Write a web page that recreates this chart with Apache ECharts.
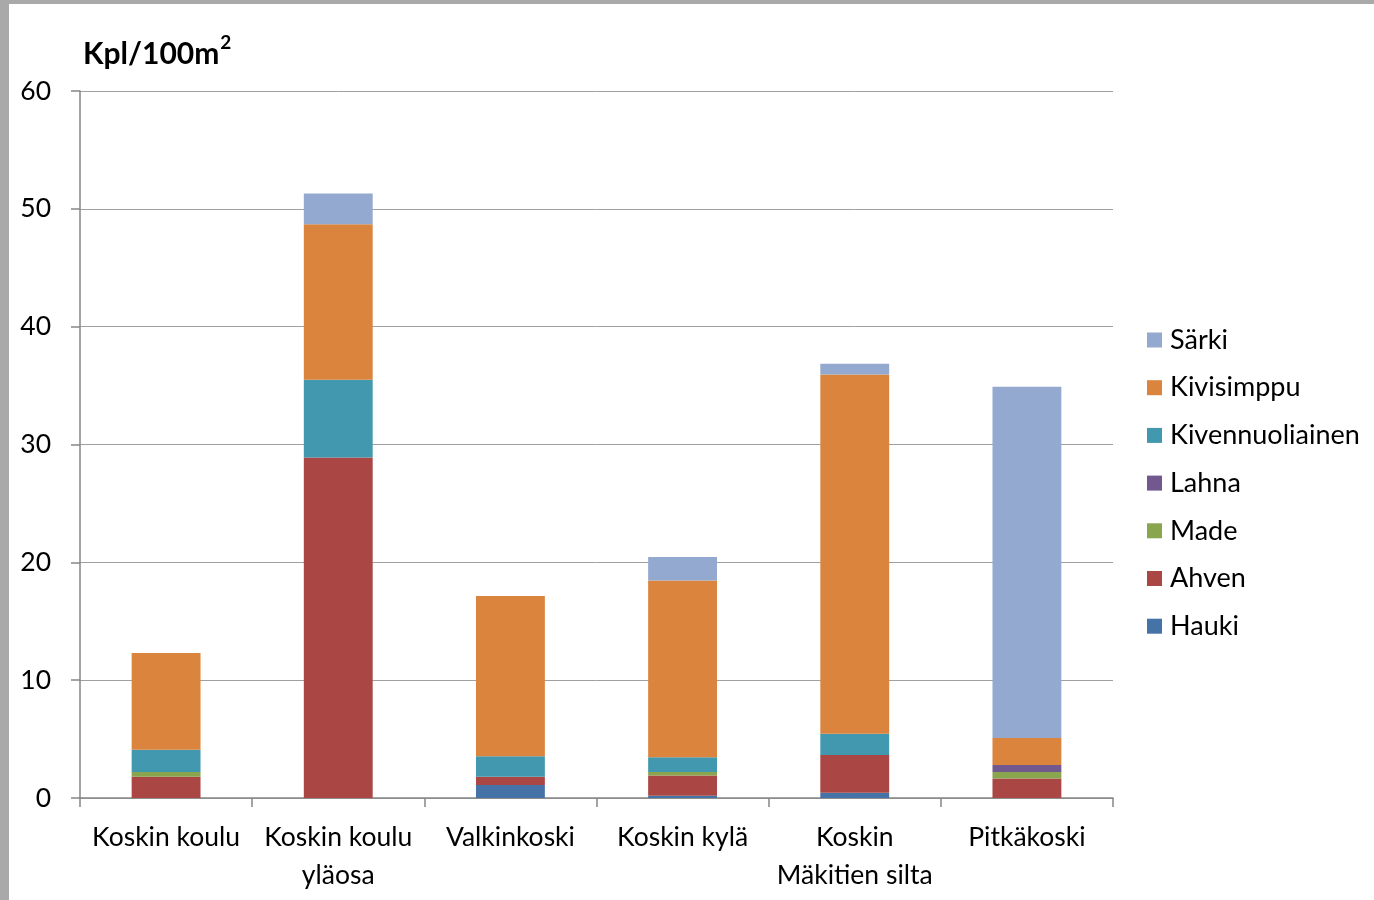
<!DOCTYPE html>
<html><head><meta charset="utf-8">
<script src="https://cdn.jsdelivr.net/npm/echarts@6/dist/echarts.min.js"></script>
<style>
html,body{margin:0;padding:0;background:#a9a9a9;width:1374px;height:900px;overflow:hidden}
#c{position:absolute;left:9px;top:4px;width:1380px;height:910px;background:#fff}
</style></head>
<body><div id="c"></div>
<script>
const categories = ['Koskin koulu', 'Koskin koulu\nyläosa', 'Valkinkoski', 'Koskin kylä', 'Koskin\nMäkitien silta', 'Pitkäkoski'];
const hauki = [0, 0, 1.1, 0.2, 0.45, 0];
const ahven = [1.8, 28.9, 0.7, 1.7, 3.2, 1.65];
const made = [0.4, 0, 0, 0.3, 0, 0.55];
const lahna = [0, 0, 0, 0, 0, 0.6];
const kivennuoliainen = [1.9, 6.6, 1.75, 1.25, 1.8, 0];
const kivisimppu = [8.2, 13.2, 13.6, 15.0, 30.5, 2.3];
const sarki = [0, 2.6, 0, 2.0, 0.9, 29.8];
const yTicks = [0, 10, 20, 30, 40, 50, 60];

const seriesDefs = [
  ['Hauki', hauki, '#4572A7'],
  ['Ahven', ahven, '#AA4643'],
  ['Made', made, '#89A54E'],
  ['Lahna', lahna, '#71588F'],
  ['Kivennuoliainen', kivennuoliainen, '#4198AF'],
  ['Kivisimppu', kivisimppu, '#DB843D'],
  ['Särki', sarki, '#93A9CF']
];
const font = 'Lato, "Open Sans", sans-serif';
const chart = echarts.init(document.getElementById('c'));
chart.setOption({
  animation: false,
  title: {text: '{m|Kpl/100m}{s|2}', left: 69, top: 24, textStyle: {
    rich: {
      m: {fontFamily: font, fontSize: 30, fontWeight: 'bold', color: '#000', lineHeight: 36, verticalAlign: 'bottom'},
      s: {fontFamily: font, fontSize: 19, fontWeight: 'bold', color: '#000', lineHeight: 36, verticalAlign: 'top', padding: [0,0,0,1]}
    }}},
  grid: {left: 71, top: 87, width: 1033, height: 707},
  legend: {
    orient: 'vertical', left: 1133, top: 316, itemGap: 17.7, itemWidth: 15, itemHeight: 15,
    icon: 'rect',
    data: seriesDefs.map(s => s[0]).reverse(),
    textStyle: {fontFamily: font, fontSize: 27, lineHeight: 30, color: '#000', padding: [0,0,0,3]}
  },
  xAxis: {
    type: 'category', data: categories,
    axisLine: {lineStyle: {color: '#868686', width: 1.5}},
    axisTick: {show: true, length: 9, lineStyle: {color: '#868686', width: 1.5}, alignWithLabel: false},
    axisLabel: {fontFamily: font, fontSize: 26.5, color: '#000', margin: 20, lineHeight: 38, interval: 0}
  },
  yAxis: {
    type: 'value', min: 0, max: 60, interval: 10,
    axisLine: {show: true, lineStyle: {color: '#868686', width: 1.5}},
    axisTick: {show: true, length: 9, lineStyle: {color: '#868686', width: 1.5}},
    splitLine: {lineStyle: {color: '#a0a0a0', width: 1}},
    axisLabel: {fontFamily: font, fontSize: 26.5, color: '#000', margin: 29,
      formatter: v => yTicks.includes(v) ? String(v) : ''}
  },
  series: seriesDefs.map(s => ({
    name: s[0], type: 'bar', stack: 'a', data: s[1], barWidth: '40%',
    itemStyle: {color: s[2]}
  }))
});
</script></body></html>
